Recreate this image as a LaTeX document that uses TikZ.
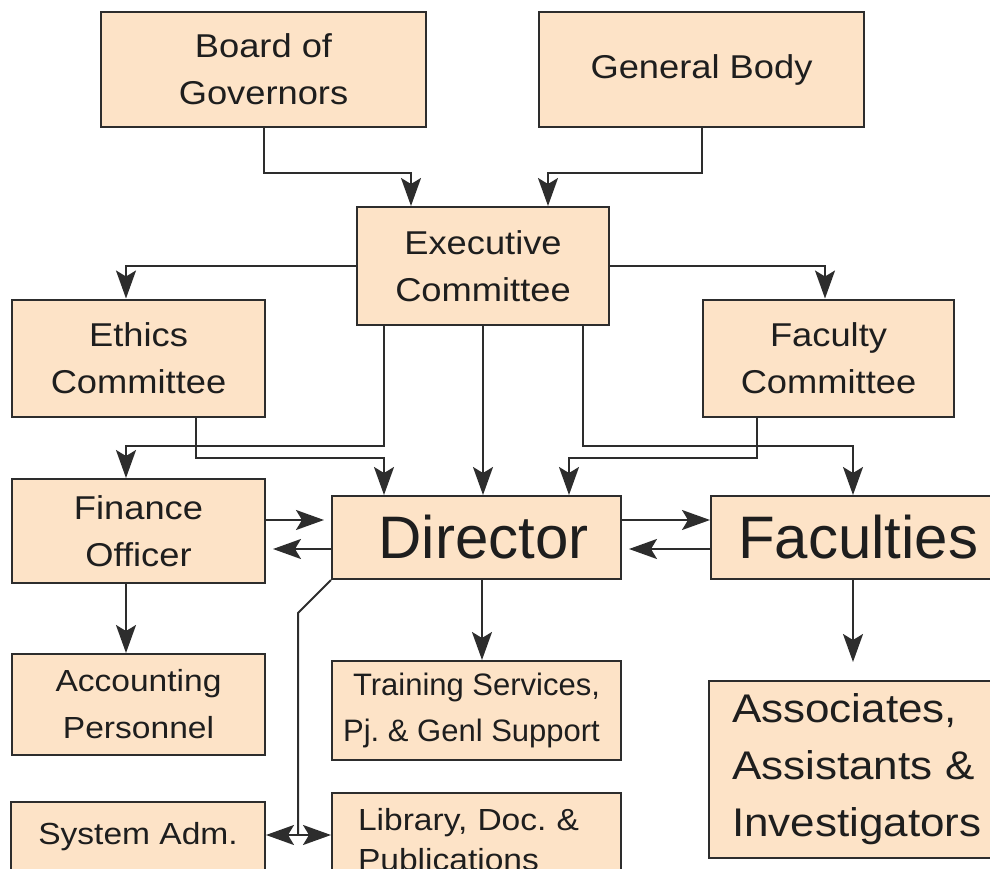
\documentclass[tikz,border=0pt]{standalone}
\usepackage{fontspec}
\setmainfont{Liberation Sans}[FakeStretch=1.1]
\newfontfamily\plainsans{Liberation Sans}
\usetikzlibrary{arrows.meta}
\definecolor{peach}{RGB}{253,227,199}
\definecolor{edge}{RGB}{45,45,45}
\definecolor{ink}{RGB}{30,30,30}
\begin{document}
\begin{tikzpicture}[x=1pt,y=-1pt,
 box/.style={draw=edge, fill=peach, line width=2pt, inner sep=0pt, align=center, text=ink, font=\fontsize{33}{47}\selectfont},
 mid/.style={font=\fontsize{30.5}{47}\selectfont},
 big/.style={font=\plainsans\fontsize{60}{62}\selectfont},
 small/.style={font=\plainsans\fontsize{31}{46}\selectfont},
 arr/.style={draw=edge, line width=2pt, -{Stealth[length=28pt,width=20pt,inset=6pt]}},
 conn/.style={draw=edge, line width=2pt}]
\frenchspacing
\useasboundingbox (0,0) rectangle (990,869);
\clip (0,0) rectangle (990,869);

\node[box, minimum width=325pt, minimum height=115pt] (bog) at (263.5,69.5) {Board of\\Governors};
\node[box, minimum width=325pt, minimum height=115pt] (gb) at (701.5,69.5) {General Body};
\node[box, minimum width=252pt, minimum height=118pt] (exec) at (483,266) {Executive\\Committee};
\node[box, minimum width=253pt, minimum height=117pt] (eth) at (138.5,358) {Ethics\\Committee};
\node[box, minimum width=251pt, minimum height=117pt] (fcm) at (828.5,358) {Faculty\\Committee};
\node[box, minimum width=253pt, minimum height=104pt] (fin) at (138.5,531) {Finance\\Officer};
\node[box, big, minimum width=289pt, minimum height=83pt] (dir) at (476.5,537.5) {\kern14pt Director};
\node[box, big, text width=245pt, inner xsep=27pt, minimum height=83pt, align=left] (fac) at (860.5,537.5) {Faculties};
\node[box, mid, minimum width=253pt, minimum height=101pt] (acc) at (138.5,704.5) {Accounting\\Personnel};
\node[box, small, minimum width=289pt, minimum height=99pt] (trn) at (476.5,710.5) {Training Services,\\Pj.\ \& Genl Support\kern10pt};
\node[box, font=\fontsize{40}{57}\selectfont, text width=255pt, inner xsep=23pt, minimum height=177pt, align=left] (asc) at (859.5,769.5) {Associates,\\Assistants \&\\Investigators};
\node[box, mid, minimum width=254pt, minimum height=70pt] (sys) at (138,837) {System Adm.};
\node[box, font=\fontsize{30.5}{40}\selectfont, text width=237pt, inner xsep=26pt, minimum height=94pt, align=left] (lib) at (476.5,840) {Library, Doc.\ \&\\Publications};

% top feeders
\draw[arr] (bog.south) -- ++(0,45) -| ([xshift=55pt]exec.north west);
\draw[arr] (gb.south) -- ++(0,45) -| ([xshift=-62pt]exec.north east);
\draw[arr] (exec.west) -| ([xshift=-12.5pt]eth.north);
\draw[arr] (exec.east) -| ([xshift=-3.5pt]fcm.north);

\coordinate (ea) at ([xshift=28pt]exec.south west);
\coordinate (eb) at ([xshift=-27pt]exec.south east);
\coordinate (eta) at ([xshift=185pt]eth.south west);
\coordinate (fca) at ([xshift=55pt]fcm.south west);
\draw[arr] (ea) -- ++(0,120) -| ([xshift=-12.5pt]fin.north);
\draw[arr] (eta) -- ++(0,40) -| (dir.north -| ea);
\draw[arr] (exec.south) -- (exec.south |- dir.north);
\draw[arr] (eb) -- ++(0,120) -| ([xshift=-7.5pt]fac.north);
\draw[arr] (fca) -- ++(0,40) -| ([xshift=92.5pt]dir.north);

% horizontal exchanges
\coordinate (fu) at ([yshift=11pt]fin.east);
\coordinate (dw) at ([xshift=-7pt]dir.west);
\draw[arr] (fu) -- (fu -| dw);
\coordinate (dl) at ([yshift=-11.5pt]dir.west);
\coordinate (fe) at ([xshift=7pt]fin.east);
\draw[arr] (dl) -- (dl -| fe);
\coordinate (du) at ([yshift=17.5pt]dir.east);
\draw[arr] (du) -- (du -| fac.west);
\coordinate (fl) at ([yshift=-11.5pt]fac.west);
\coordinate (de) at ([xshift=7pt]dir.east);
\draw[arr] (fl) -- (fl -| de);

% downward
\draw[arr] ([xshift=-12.5pt]fin.south) -- ([xshift=-12.5pt]acc.north);
\coordinate (ds) at ([xshift=5.5pt]dir.south);
\draw[arr] (ds) -- (ds |- trn.north);
\coordinate (fs) at ([xshift=-7.5pt]fac.south);
\coordinate (ft) at ([yshift=18pt]fs |- asc.north);
\draw[arr] (fs) -- (ft);

% system / library
\coordinate (k1) at (298,613);
\coordinate (k2) at (298,835);
\draw[conn] (dir.south west) -- (k1) -- (k2);
\draw[arr] (k2) -- (k2 -| sys.east);
\draw[arr] (k2) -- (k2 -| lib.west);
\end{tikzpicture}
\end{document}
